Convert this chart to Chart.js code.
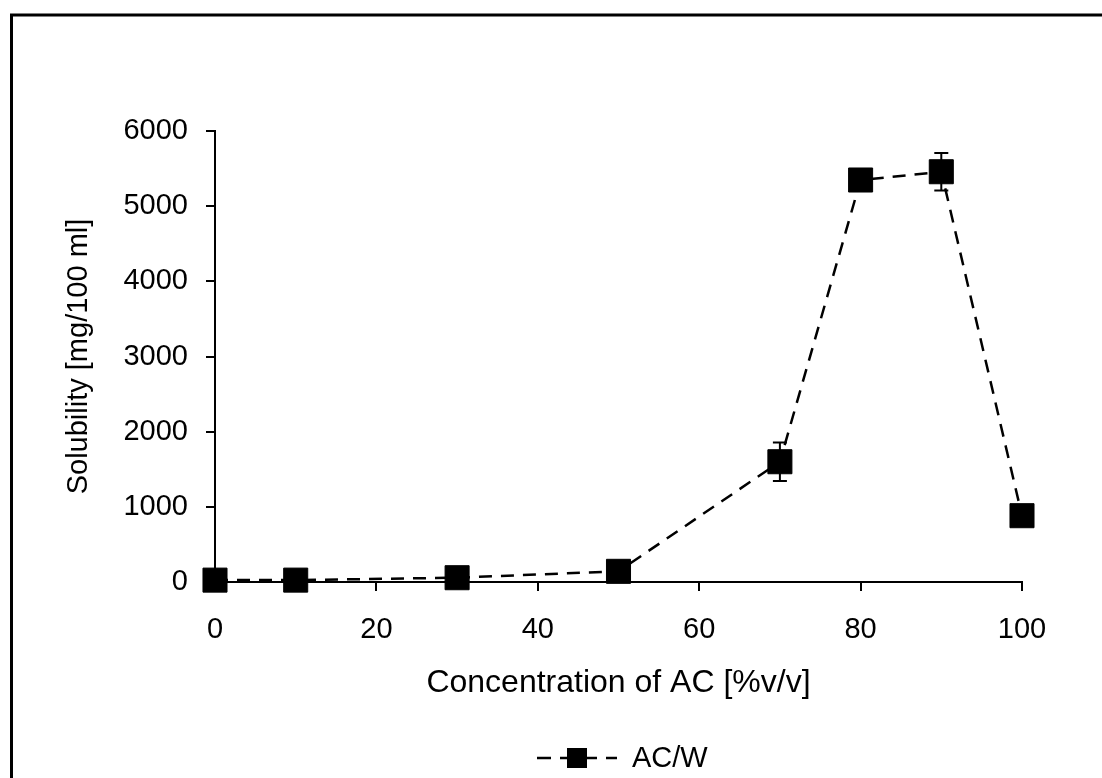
<!DOCTYPE html>
<html>
<head>
<meta charset="utf-8">
<style>
  html, body { margin: 0; padding: 0; background: #fff; }
  #wrap { width: 1102px; height: 778px; position: relative; }
</style>
<script src="https://cdn.jsdelivr.net/npm/chart.js@4.4.1/dist/chart.umd.min.js"></script>
</head>
<body>
<div id="wrap"><canvas id="c" width="1102" height="778"></canvas></div>
<script>
// Solubility of the compound in acetone/water mixtures
const concentrations = [0, 10, 30, 50, 70, 80, 90, 100];          // % v/v acetone
const solubility = [25, 25, 57, 142, 1600, 5348, 5458, 882];       // mg / 100 ml
const solubilityError = [5, 5, 10, 20, 255, 100, 250, 60];         // ± SD
const xTicks = [0, 20, 40, 60, 80, 100];
const yTicks = [0, 1000, 2000, 3000, 4000, 5000, 6000];
const seriesLabel = 'AC/W';
const xTitle = 'Concentration of AC [%v/v]';
const yTitle = 'Solubility [mg/100 ml]';

const FONT = "'Liberation Sans', Arial, sans-serif";
const FS = 29;

// Page frame and white background
const framePlugin = {
  id: 'frame',
  beforeDraw(chart) {
    const ctx = chart.ctx;
    ctx.save();
    ctx.fillStyle = '#fff';
    ctx.fillRect(0, 0, chart.width, chart.height);
    ctx.strokeStyle = '#000';
    ctx.lineWidth = 3;
    ctx.strokeRect(11.5, 15, chart.width + 50, chart.height + 50);
    ctx.restore();
  }
};

// Vertical error bars with caps
const errorBarPlugin = {
  id: 'errorBars',
  beforeDatasetsDraw(chart) {
    const ctx = chart.ctx;
    const xs = chart.scales.x, ys = chart.scales.y;
    ctx.save();
    ctx.strokeStyle = '#000';
    ctx.lineWidth = 2;
    ctx.setLineDash([]);
    concentrations.forEach((c, i) => {
      const x = xs.getPixelForValue(c);
      const yt = ys.getPixelForValue(solubility[i] + solubilityError[i]);
      const yb = ys.getPixelForValue(Math.max(0, solubility[i] - solubilityError[i]));
      ctx.beginPath();
      ctx.moveTo(x, yt); ctx.lineTo(x, yb);
      ctx.moveTo(x - 7, yt); ctx.lineTo(x + 7, yt);
      ctx.moveTo(x - 7, yb); ctx.lineTo(x + 7, yb);
      ctx.stroke();
    });
    ctx.restore();
  }
};

// Legend: dashed line with square marker, centred under the plot
const legendPlugin = {
  id: 'lineLegend',
  afterDraw(chart) {
    const ctx = chart.ctx;
    const ds = chart.data.datasets[0];
    const cy = 758;
    const x0 = 537, x1 = 617;
    ctx.save();
    ctx.strokeStyle = ds.borderColor;
    ctx.lineWidth = ds.borderWidth;
    ctx.setLineDash([14, 9]);
    ctx.beginPath();
    ctx.moveTo(x0, cy); ctx.lineTo(x1, cy);
    ctx.stroke();
    ctx.setLineDash([]);
    ctx.fillStyle = '#000';
    ctx.fillRect(567, cy - 10, 20, 20);
    ctx.font = FS + 'px ' + FONT;
    ctx.textBaseline = 'middle';
    ctx.textAlign = 'left';
    ctx.fillText(ds.label, 632, cy + 1);
    ctx.restore();
  }
};

const axisCommon = {
  grid: { display: true, drawOnChartArea: false, drawTicks: true, tickLength: 9, color: '#000', lineWidth: 2 },
  border: { display: true, color: '#000', width: 2 },
};

new Chart(document.getElementById('c'), {
  type: 'line',
  data: {
    datasets: [{
      label: seriesLabel,
      data: concentrations.map((c, i) => ({ x: c, y: solubility[i] })),
      borderColor: '#000',
      borderWidth: 2.5,
      borderDash: [13, 9],
      pointStyle: 'rect',
      pointRadius: 17,
      pointBackgroundColor: '#000',
      pointBorderColor: '#000',
      pointBorderWidth: 1,
      tension: 0,
      fill: false,
      clip: false
    }]
  },
  options: {
    responsive: false,
    animation: false,
    devicePixelRatio: 1,
    layout: { padding: { left: 62, top: 131, right: 80, bottom: 76 } },
    plugins: { legend: { display: false }, tooltip: { enabled: false } },
    scales: {
      x: {
        ...axisCommon,
        type: 'linear',
        min: 0, max: 100,
        afterBuildTicks: s => { s.ticks = xTicks.map(v => ({ value: v })); },
        afterFit: s => { s.height = 120; },
        ticks: { color: '#000', padding: 22, font: { family: FONT, size: FS }, maxRotation: 0, callback: v => String(v) },
        title: { display: true, text: xTitle, color: '#000', padding: 0, font: { family: FONT, size: 32 } }
      },
      y: {
        ...axisCommon,
        type: 'linear',
        min: 0, max: 6000,
        afterBuildTicks: s => { s.ticks = yTicks.map(v => ({ value: v })); },
        afterFit: s => { s.width = 153; },
        ticks: { color: '#000', padding: 18, font: { family: FONT, size: FS }, callback: v => String(v) },
        title: { display: true, text: yTitle, color: '#000', padding: 0, font: { family: FONT, size: FS } }
      }
    }
  },
  plugins: [framePlugin, errorBarPlugin, legendPlugin]
});
</script>
</body>
</html>
